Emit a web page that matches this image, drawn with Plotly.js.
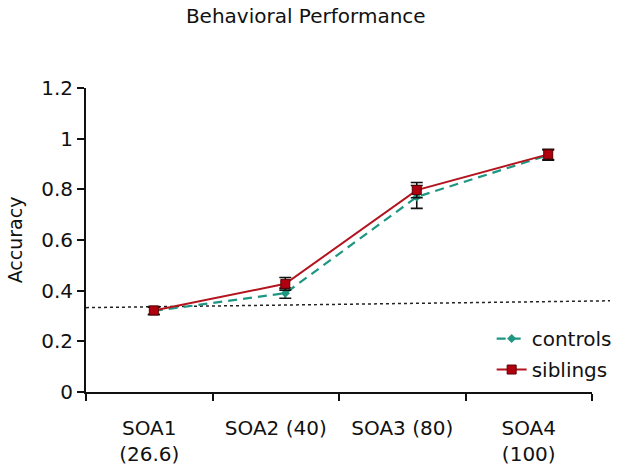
<!DOCTYPE html>
<html>
<head>
<meta charset="utf-8">
<script src="https://cdn.plot.ly/plotly-3.0.1.min.js"></script>
<style>html,body{margin:0;padding:0;background:#fff;}#chart{width:624px;height:471px;}</style>
</head>
<body>
<div id="chart"></div>
<script>
const categories = ["SOA1<br>(26.6)", "SOA2 (40)", "SOA3 (80)", "SOA4<br>(100)"];
const controls = [0.32, 0.39, 0.77, 0.935];
const controlsErr = [0.015, 0.02, 0.045, 0.02];
const siblings = [0.322, 0.427, 0.797, 0.938];
const siblingsErr = [0.015, 0.025, 0.03, 0.02];
const chanceStart = 0.333;
const chanceEnd = 0.36;
const yTicks = [0, 0.2, 0.4, 0.6, 0.8, 1, 1.2];

const FONT = "DejaVu Sans, Verdana, sans-serif";
const XDOM = [0, 506 / 538];

const traces = [
  {
    // carrier for the category label axis (invisible)
    name: "axis", x: categories, y: siblings, xaxis: "x", yaxis: "y",
    type: "scatter", mode: "markers", marker: {opacity: 0, size: 1},
    showlegend: false, hoverinfo: "skip"
  },
  {
    name: "controls", x: categories, y: controls, xaxis: "x2", yaxis: "y",
    type: "scatter", mode: "lines+markers", legendgroup: "a",
    line: {color: "#1e9682", width: 2.2, dash: "9px,6px"},
    marker: {symbol: "diamond", size: 7, color: "#1e9682"},
    error_y: {type: "data", array: controlsErr, visible: true, color: "#111", thickness: 1.6, width: 6}
  },
  {
    name: "siblings", x: categories, y: siblings, xaxis: "x2", yaxis: "y",
    type: "scatter", mode: "lines+markers", legendgroup: "b",
    line: {color: "#b3141e", width: 2},
    marker: {symbol: "square", size: 9, color: "#b00010", line: {color: "#5a0000", width: 1}},
    error_y: {type: "data", array: siblingsErr, visible: true, color: "#111", thickness: 1.6, width: 6}
  }
];

const layout = {
  width: 624, height: 471,
  margin: {l: 86, r: 0, t: 88, b: 79},
  paper_bgcolor: "#fff", plot_bgcolor: "#fff",
  font: {family: FONT, size: 20, color: "#111"},
  title: {text: "Behavioral Performance", font: {family: FONT, size: 20, color: "#111"},
          x: 0.49, xref: "container", xanchor: "center", y: 0.966, yref: "container", yanchor: "middle"},
  xaxis: {
    domain: XDOM,
    type: "category", categoryorder: "array", categoryarray: categories, range: [-0.5, 3.5],
    tickson: "boundaries", ticks: "outside", ticklen: 7, tickwidth: 2, tickcolor: "#111",
    showline: true, linecolor: "#111", linewidth: 2, showgrid: false, zeroline: false,
    tickfont: {family: FONT, size: 20, color: "#111"}, ticklabelstandoff: 17
  },
  xaxis2: {
    domain: XDOM,
    type: "category", categoryorder: "array", categoryarray: categories, overlaying: "x",
    range: [-0.516, 3.333], visible: false, showgrid: false, zeroline: false
  },
  yaxis: {
    range: [0, 1.2], tickvals: yTicks, ticks: "outside", ticklen: 7, tickwidth: 2, tickcolor: "#111",
    showline: true, linecolor: "#111", linewidth: 2, showgrid: false, zeroline: false,
    tickfont: {family: FONT, size: 20, color: "#111"},
    title: {text: "Accuracy", font: {family: FONT, size: 19, color: "#111"}, standoff: 14}
  },
  shapes: [{
    type: "line", xref: "paper", yref: "y", x0: 0, x1: 0.974, y0: chanceStart, y1: chanceEnd,
    line: {color: "#222", width: 1.5, dash: "dot"}, layer: "below"
  }],
  showlegend: true,
  legend: {x: 0.754, xanchor: "left", y: 0.24, yanchor: "top", bgcolor: "rgba(0,0,0,0)",
           font: {family: FONT, size: 20, color: "#111"}, tracegroupgap: 2, traceorder: "grouped"}
};

Plotly.newPlot("chart", traces, layout, {displayModeBar: false, staticPlot: true});
</script>
</body>
</html>
